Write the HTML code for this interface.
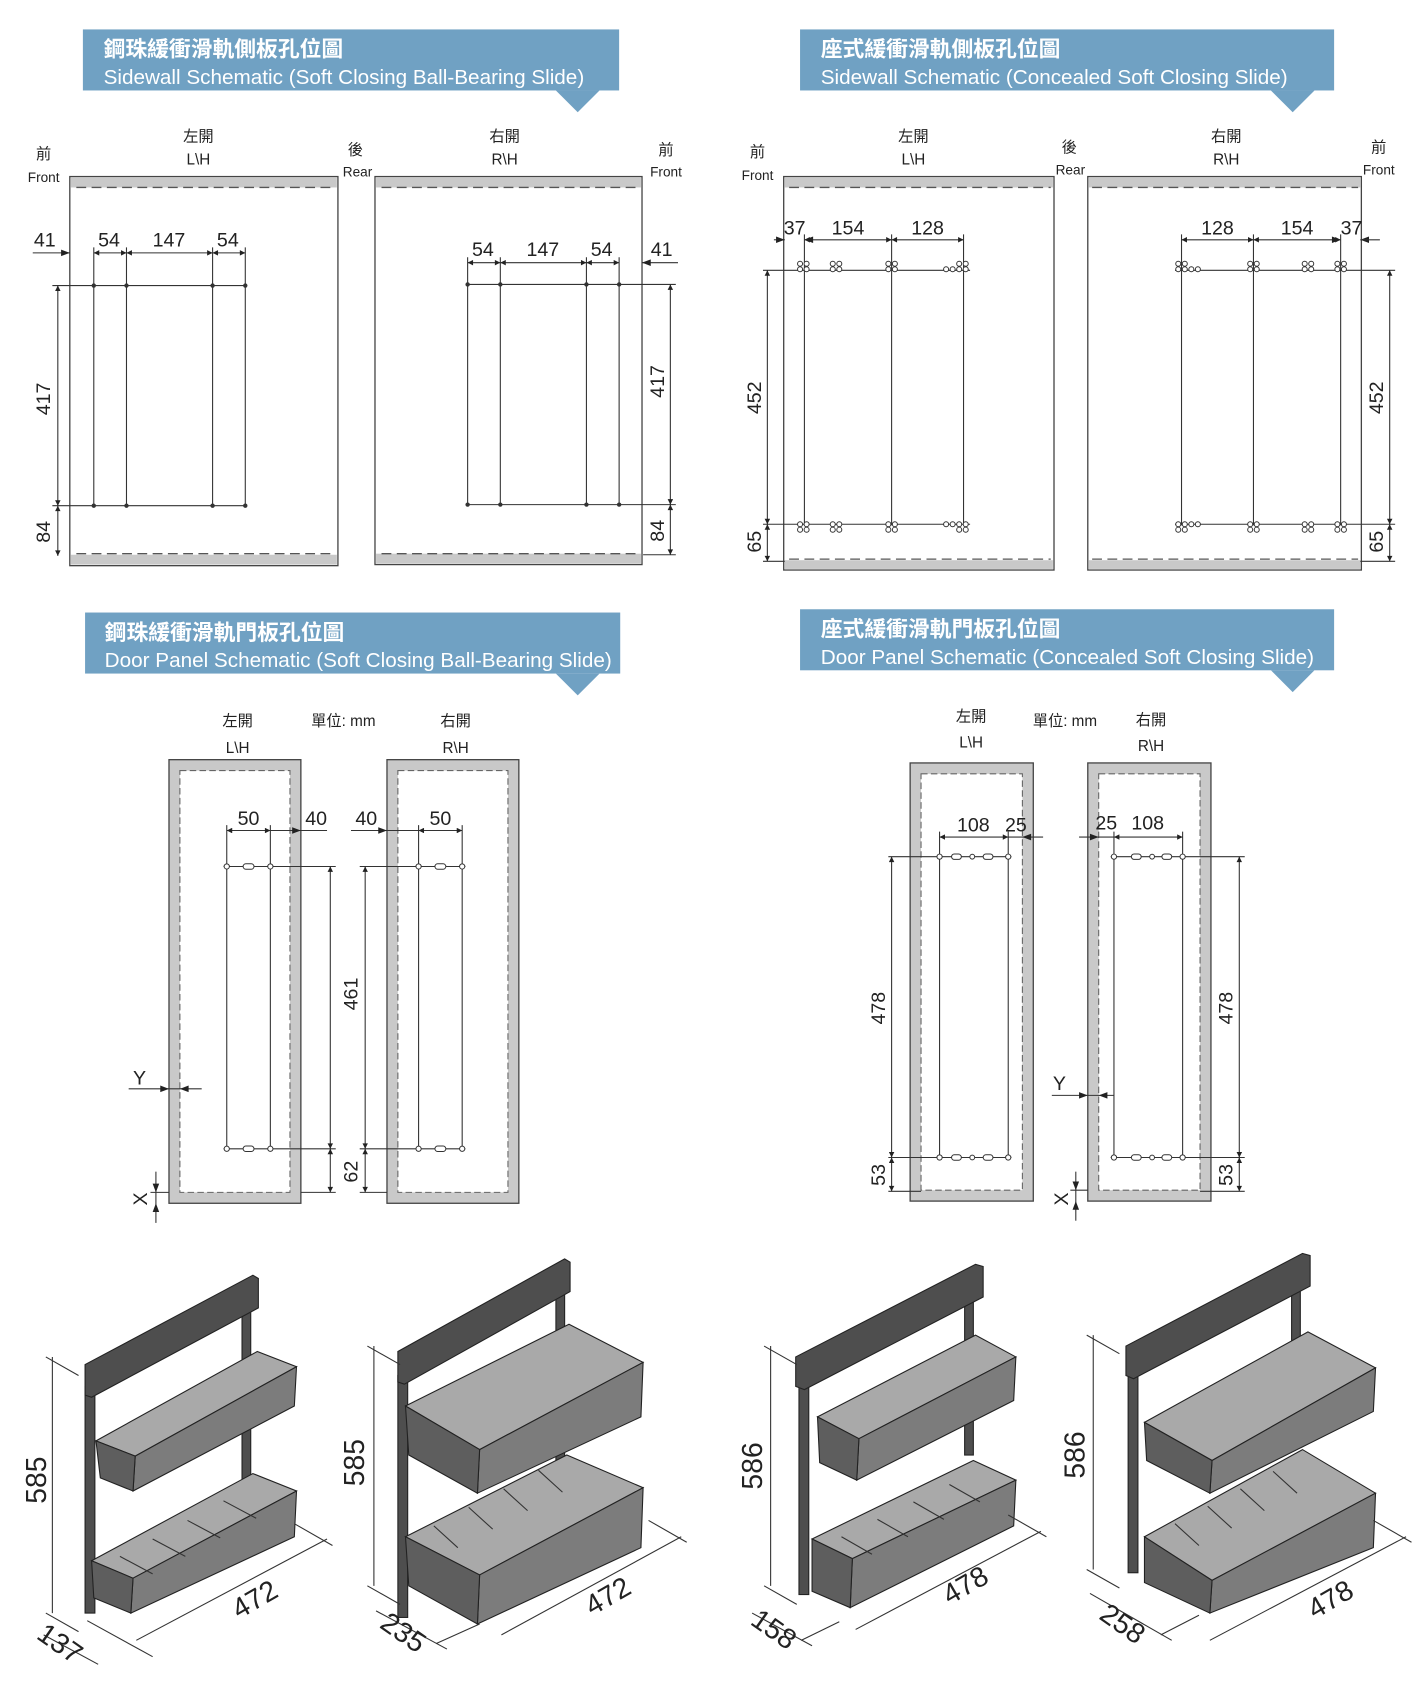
<!DOCTYPE html>
<html><head><meta charset="utf-8"><style>
html,body{margin:0;padding:0;background:#fff;}
svg{display:block;}
text{font-family:"Liberation Sans","Noto Sans CJK TC",sans-serif;fill:#222;}
.bt{fill:#fff;}
.n{font-size:18px;text-anchor:middle;}
.s{font-size:14px;text-anchor:middle;}
.xs{font-size:12.5px;text-anchor:middle;}
.l{stroke:#333;stroke-width:1;fill:none;}
.d{stroke:#555;stroke-width:1.2;fill:none;stroke-dasharray:9 5;}
.dim{stroke:#333;stroke-width:1;fill:none;marker-start:url(#a);marker-end:url(#a);}
.band{fill:#c9c9c9;}
.pn{fill:#fff;stroke:#444;stroke-width:1.2;}
.h{fill:#fff;stroke:#333;stroke-width:0.9;}
.fr{fill:#4e4e4e;stroke:#222;stroke-width:1;}
.top{fill:#a9a9a9;stroke:#222;stroke-width:1;}
.fr2{fill:#7c7c7c;stroke:#222;stroke-width:1;}
.en{fill:#5e5e5e;stroke:#222;stroke-width:1;}
.big{font-size:26px;text-anchor:middle;}
</style></head><body>
<svg width="1417" height="1697" viewBox="0 0 1300 1557" xmlns="http://www.w3.org/2000/svg">
<defs>
<marker id="a" viewBox="0 0 10 10" refX="10" refY="5" markerWidth="7" markerHeight="5" orient="auto-start-reverse" markerUnits="userSpaceOnUse"><path d="M0,0 L10,5 L0,10 z" fill="#222"/></marker>
</defs>

<g fill="#70a1c3">
<rect x="76" y="27" width="492" height="56"/><path d="M510,83 L550,83 L530,103 z"/>
<rect x="734" y="27" width="490" height="56"/><path d="M1166,83 L1206,83 L1186,103 z"/>
<rect x="78" y="562" width="491" height="56"/><path d="M510,618 L550,618 L530,638 z"/>
<rect x="734" y="559" width="490" height="56"/><path d="M1166,615 L1206,615 L1186,635 z"/>
</g>
<text class="bt" x="95" y="52" font-size="20" font-weight="bold">鋼珠緩衝滑軌側板孔位圖</text>
<text class="bt" x="95" y="77" font-size="19">Sidewall  Schematic (Soft Closing Ball-Bearing Slide)</text>
<text class="bt" x="753" y="52" font-size="20" font-weight="bold">座式緩衝滑軌側板孔位圖</text>
<text class="bt" x="753" y="77" font-size="19">Sidewall  Schematic (Concealed Soft Closing Slide)</text>
<text class="bt" x="96" y="587" font-size="20" font-weight="bold">鋼珠緩衝滑軌門板孔位圖</text>
<text class="bt" x="96" y="612" font-size="19">Door Panel Schematic (Soft Closing Ball-Bearing Slide)</text>
<text class="bt" x="753" y="584" font-size="20" font-weight="bold">座式緩衝滑軌門板孔位圖</text>
<text class="bt" x="753" y="609" font-size="19">Door Panel Schematic (Concealed Soft Closing Slide)</text>

<text class="s" x="40" y="146">前</text><text class="xs" x="40" y="167">Front</text>
<text class="s" x="182" y="130">左開</text><text class="s" x="182" y="151">L\H</text>
<text class="s" x="326" y="142">後</text><text class="xs" x="328" y="162">Rear</text>
<text class="s" x="463" y="130">右開</text><text class="s" x="463" y="151">R\H</text>
<text class="s" x="611" y="142">前</text><text class="xs" x="611" y="162">Front</text>

<rect class="pn" x="64" y="162" width="246" height="357"/>
<rect class="band" x="65" y="163" width="244" height="9"/><rect class="band" x="65" y="509" width="244" height="9"/>
<line class="d" x1="70" y1="172" x2="306" y2="172"/><line class="d" x1="70" y1="508" x2="306" y2="508"/>
<rect class="pn" x="344" y="162" width="245" height="356"/>
<rect class="band" x="345" y="163" width="243" height="9"/><rect class="band" x="345" y="508" width="243" height="9"/>
<line class="d" x1="350" y1="172" x2="585" y2="172"/><line class="d" x1="350" y1="508" x2="585" y2="508"/>

<line class="l" x1="30" y1="232" x2="64" y2="232"/>
<path d="M64,232 l-8,-3 v6z" fill="#222"/>
<line class="dim" x1="86" y1="232" x2="116" y2="232"/>
<line class="dim" x1="116" y1="232" x2="195" y2="232"/>
<line class="dim" x1="195" y1="232" x2="225" y2="232"/>
<g class="l"><line x1="86" y1="227" x2="86" y2="464"/><line x1="116" y1="227" x2="116" y2="464"/><line x1="195" y1="227" x2="195" y2="464"/><line x1="225" y1="227" x2="225" y2="464"/>
<line x1="48" y1="262" x2="225" y2="262"/><line x1="48" y1="464" x2="225" y2="464"/></g>
<g fill="#333"><circle cx="86" cy="262" r="2"/><circle cx="116" cy="262" r="2"/><circle cx="195" cy="262" r="2"/><circle cx="225" cy="262" r="2"/>
<circle cx="86" cy="464" r="2"/><circle cx="116" cy="464" r="2"/><circle cx="195" cy="464" r="2"/><circle cx="225" cy="464" r="2"/></g>
<line class="dim" x1="53" y1="262" x2="53" y2="464"/><line class="dim" x1="53" y1="464" x2="53" y2="510"/>
<text class="n" x="41" y="226">41</text><text class="n" x="100" y="226">54</text><text class="n" x="155" y="226">147</text><text class="n" x="209" y="226">54</text>
<text class="n" transform="translate(46,366) rotate(-90)">417</text>
<text class="n" transform="translate(46,488) rotate(-90)">84</text>

<line class="dim" x1="429" y1="241" x2="459" y2="241"/>
<line class="dim" x1="459" y1="241" x2="538" y2="241"/>
<line class="dim" x1="538" y1="241" x2="568" y2="241"/>
<line class="l" x1="589" y1="241" x2="622" y2="241"/><path d="M589,241 l8,-3 v6z" fill="#222"/>
<g class="l"><line x1="429" y1="236" x2="429" y2="463"/><line x1="459" y1="236" x2="459" y2="463"/><line x1="538" y1="236" x2="538" y2="463"/><line x1="568" y1="236" x2="568" y2="463"/>
<line x1="429" y1="261" x2="620" y2="261"/><line x1="429" y1="463" x2="620" y2="463"/><line x1="590" y1="509" x2="620" y2="509"/></g>
<g fill="#333"><circle cx="429" cy="261" r="2"/><circle cx="459" cy="261" r="2"/><circle cx="538" cy="261" r="2"/><circle cx="568" cy="261" r="2"/>
<circle cx="429" cy="463" r="2"/><circle cx="459" cy="463" r="2"/><circle cx="538" cy="463" r="2"/><circle cx="568" cy="463" r="2"/></g>
<line class="dim" x1="615" y1="261" x2="615" y2="463"/><line class="dim" x1="615" y1="463" x2="615" y2="509"/>
<text class="n" x="443" y="235">54</text><text class="n" x="498" y="235">147</text><text class="n" x="552" y="235">54</text><text class="n" x="607" y="235">41</text>
<text class="n" transform="translate(609,350) rotate(-90)">417</text>
<text class="n" transform="translate(609,487) rotate(-90)">84</text>

<text class="s" x="695" y="144">前</text><text class="xs" x="695" y="165">Front</text>
<text class="s" x="838" y="130">左開</text><text class="s" x="838" y="151">L\H</text>
<text class="s" x="981" y="140">後</text><text class="xs" x="982" y="160">Rear</text>
<text class="s" x="1125" y="130">右開</text><text class="s" x="1125" y="151">R\H</text>
<text class="s" x="1265" y="140">前</text><text class="xs" x="1265" y="160">Front</text>

<rect class="pn" x="719" y="162" width="248" height="361"/>
<rect class="band" x="720" y="163" width="246" height="9"/><rect class="band" x="720" y="514" width="246" height="8"/>
<line class="d" x1="724" y1="172" x2="964" y2="172"/><line class="d" x1="724" y1="513" x2="964" y2="513"/>
<rect class="pn" x="998" y="162" width="251" height="361"/>
<rect class="band" x="999" y="163" width="249" height="9"/><rect class="band" x="999" y="514" width="249" height="8"/>
<line class="d" x1="1002" y1="172" x2="1246" y2="172"/><line class="d" x1="1002" y1="513" x2="1246" y2="513"/>

<line class="l" x1="710" y1="220" x2="720" y2="220"/><path d="M720,220 l-8,-3 v6z" fill="#222"/>
<line class="dim" x1="738" y1="220" x2="818" y2="220"/><line class="dim" x1="818" y1="220" x2="884" y2="220"/>
<path d="M738,220 l8,-3 v6z" fill="#222"/>
<g class="l"><line x1="738" y1="215" x2="738" y2="482"/><line x1="818" y1="215" x2="818" y2="482"/><line x1="884" y1="215" x2="884" y2="482"/>
<line x1="700" y1="248" x2="890" y2="248"/><line x1="700" y1="481" x2="890" y2="481"/><line x1="700" y1="515" x2="720" y2="515"/></g>
<line class="dim" x1="704" y1="248" x2="704" y2="481"/><line class="dim" x1="704" y1="481" x2="704" y2="515"/>
<text class="n" x="729" y="215">37</text><text class="n" x="778" y="215">154</text><text class="n" x="851" y="215">128</text>
<text class="n" transform="translate(698,365) rotate(-90)">452</text>
<text class="n" transform="translate(698,497) rotate(-90)">65</text>
<g class="h">
<circle cx="734" cy="242" r="2.3"/><circle cx="740" cy="242" r="2.3"/><circle cx="734" cy="247" r="2.3"/><circle cx="740" cy="247" r="2.3"/>
<circle cx="764" cy="242" r="2.3"/><circle cx="770" cy="242" r="2.3"/><circle cx="764" cy="247" r="2.3"/><circle cx="770" cy="247" r="2.3"/>
<circle cx="815" cy="242" r="2.3"/><circle cx="821" cy="242" r="2.3"/><circle cx="815" cy="247" r="2.3"/><circle cx="821" cy="247" r="2.3"/>
<circle cx="868" cy="247" r="2.3"/><circle cx="874" cy="247" r="2.3"/><circle cx="880" cy="242" r="2.3"/><circle cx="886" cy="242" r="2.3"/><circle cx="880" cy="247" r="2.3"/><circle cx="886" cy="247" r="2.3"/>
<circle cx="734" cy="481" r="2.3"/><circle cx="740" cy="481" r="2.3"/><circle cx="734" cy="486" r="2.3"/><circle cx="740" cy="486" r="2.3"/>
<circle cx="764" cy="481" r="2.3"/><circle cx="770" cy="481" r="2.3"/><circle cx="764" cy="486" r="2.3"/><circle cx="770" cy="486" r="2.3"/>
<circle cx="815" cy="481" r="2.3"/><circle cx="821" cy="481" r="2.3"/><circle cx="815" cy="486" r="2.3"/><circle cx="821" cy="486" r="2.3"/>
<circle cx="868" cy="481" r="2.3"/><circle cx="874" cy="481" r="2.3"/><circle cx="880" cy="481" r="2.3"/><circle cx="886" cy="481" r="2.3"/><circle cx="880" cy="486" r="2.3"/><circle cx="886" cy="486" r="2.3"/>
</g>

<line class="dim" x1="1084" y1="220" x2="1150" y2="220"/><line class="dim" x1="1150" y1="220" x2="1230" y2="220"/>
<path d="M1248,220 l8,-3 v6z" fill="#222"/><line class="l" x1="1248" y1="220" x2="1266" y2="220"/>
<path d="M1230,220 l-8,-3 v6z" fill="#222"/>
<g class="l"><line x1="1084" y1="215" x2="1084" y2="482"/><line x1="1150" y1="215" x2="1150" y2="482"/><line x1="1230" y1="215" x2="1230" y2="482"/>
<line x1="1078" y1="248" x2="1280" y2="248"/><line x1="1078" y1="481" x2="1280" y2="481"/><line x1="1248" y1="515" x2="1280" y2="515"/></g>
<line class="dim" x1="1275" y1="248" x2="1275" y2="481"/><line class="dim" x1="1275" y1="481" x2="1275" y2="515"/>
<text class="n" x="1117" y="215">128</text><text class="n" x="1190" y="215">154</text><text class="n" x="1240" y="215">37</text>
<text class="n" transform="translate(1269,365) rotate(-90)">452</text>
<text class="n" transform="translate(1269,497) rotate(-90)">65</text>
<g class="h">
<circle cx="1081" cy="242" r="2.3"/><circle cx="1087" cy="242" r="2.3"/><circle cx="1081" cy="247" r="2.3"/><circle cx="1087" cy="247" r="2.3"/><circle cx="1093" cy="247" r="2.3"/><circle cx="1099" cy="247" r="2.3"/>
<circle cx="1147" cy="242" r="2.3"/><circle cx="1153" cy="242" r="2.3"/><circle cx="1147" cy="247" r="2.3"/><circle cx="1153" cy="247" r="2.3"/>
<circle cx="1197" cy="242" r="2.3"/><circle cx="1203" cy="242" r="2.3"/><circle cx="1197" cy="247" r="2.3"/><circle cx="1203" cy="247" r="2.3"/>
<circle cx="1227" cy="242" r="2.3"/><circle cx="1233" cy="242" r="2.3"/><circle cx="1227" cy="247" r="2.3"/><circle cx="1233" cy="247" r="2.3"/>
<circle cx="1081" cy="481" r="2.3"/><circle cx="1087" cy="481" r="2.3"/><circle cx="1093" cy="481" r="2.3"/><circle cx="1099" cy="481" r="2.3"/><circle cx="1081" cy="486" r="2.3"/><circle cx="1087" cy="486" r="2.3"/>
<circle cx="1147" cy="481" r="2.3"/><circle cx="1153" cy="481" r="2.3"/><circle cx="1147" cy="486" r="2.3"/><circle cx="1153" cy="486" r="2.3"/>
<circle cx="1197" cy="481" r="2.3"/><circle cx="1203" cy="481" r="2.3"/><circle cx="1197" cy="486" r="2.3"/><circle cx="1203" cy="486" r="2.3"/>
<circle cx="1227" cy="481" r="2.3"/><circle cx="1233" cy="481" r="2.3"/><circle cx="1227" cy="486" r="2.3"/><circle cx="1233" cy="486" r="2.3"/>
</g>

<text class="s" x="218" y="666" font-size="17">左開</text><text class="s" x="218" y="691" font-size="17">L\H</text>
<text class="s" x="315" y="666">單位: mm</text>
<text class="s" x="418" y="666" font-size="17">右開</text><text class="s" x="418" y="691" font-size="17">R\H</text>

<rect x="155" y="697" width="121" height="407" fill="#c9c9c9" stroke="#444" stroke-width="1.2"/>
<rect x="165" y="707" width="101" height="387" fill="#fff" stroke="#666" stroke-width="1" stroke-dasharray="6 3"/>
<rect x="355" y="697" width="121" height="407" fill="#c9c9c9" stroke="#444" stroke-width="1.2"/>
<rect x="365" y="707" width="101" height="387" fill="#fff" stroke="#666" stroke-width="1" stroke-dasharray="6 3"/>

<g class="l"><line x1="208" y1="757" x2="208" y2="1054"/><line x1="248" y1="757" x2="248" y2="1054"/>
<line x1="205" y1="795" x2="308" y2="795"/><line x1="205" y1="1054" x2="308" y2="1054"/><line x1="276" y1="1094" x2="308" y2="1094"/>
<line x1="248" y1="762" x2="300" y2="762"/></g>
<line class="dim" x1="208" y1="762" x2="248" y2="762"/><path d="M276,762 l-8,-3 v6z" fill="#222"/>
<line class="dim" x1="303" y1="795" x2="303" y2="1054"/><line class="dim" x1="303" y1="1054" x2="303" y2="1094"/>
<g class="h"><circle cx="208" cy="795" r="2.4"/><rect x="223" y="792.5" width="10" height="5" rx="2.5"/><circle cx="248" cy="795" r="2.4"/>
<circle cx="208" cy="1054" r="2.4"/><rect x="223" y="1051.5" width="10" height="5" rx="2.5"/><circle cx="248" cy="1054" r="2.4"/></g>
<text class="n" x="228" y="757">50</text><text class="n" x="290" y="757">40</text>
<text class="n" transform="translate(328,912) rotate(-90)">461</text>
<text class="n" transform="translate(328,1075) rotate(-90)">62</text>

<g class="l"><line x1="384" y1="757" x2="384" y2="1054"/><line x1="424" y1="757" x2="424" y2="1054"/>
<line x1="330" y1="795" x2="427" y2="795"/><line x1="330" y1="1054" x2="427" y2="1054"/><line x1="330" y1="1094" x2="355" y2="1094"/>
<line x1="322" y1="762" x2="384" y2="762"/></g>
<path d="M355,762 l-8,-3 v6z" fill="#222"/>
<line class="dim" x1="384" y1="762" x2="424" y2="762"/>
<line class="dim" x1="335" y1="795" x2="335" y2="1054"/><line class="dim" x1="335" y1="1054" x2="335" y2="1094"/>
<g class="h"><circle cx="384" cy="795" r="2.4"/><rect x="399" y="792.5" width="10" height="5" rx="2.5"/><circle cx="424" cy="795" r="2.4"/>
<circle cx="384" cy="1054" r="2.4"/><rect x="399" y="1051.5" width="10" height="5" rx="2.5"/><circle cx="424" cy="1054" r="2.4"/></g>
<text class="n" x="336" y="757">40</text><text class="n" x="404" y="757">50</text>

<text class="n" x="128" y="995">Y</text>
<line class="l" x1="118" y1="999" x2="185" y2="999"/><path d="M155,999 l-8,-3 v6z M165,999 l8,-3 v6z" fill="#222"/>
<text class="n" transform="translate(135,1100) rotate(-90)">X</text>
<line class="l" x1="143" y1="1075" x2="143" y2="1122"/><path d="M143,1094 l-3,-8 h6z M143,1104 l-3,8 h6z" fill="#222"/>
<line class="l" x1="138" y1="1094" x2="155" y2="1094"/>

<text class="s" x="891" y="662" font-size="17">左開</text><text class="s" x="891" y="686" font-size="17">L\H</text>
<text class="s" x="977" y="666">單位: mm</text>
<text class="s" x="1056" y="665" font-size="17">右開</text><text class="s" x="1056" y="689" font-size="17">R\H</text>

<rect x="835" y="700" width="113" height="402" fill="#c9c9c9" stroke="#444" stroke-width="1.2"/>
<rect x="845" y="710" width="93" height="382" fill="#fff" stroke="#666" stroke-width="1" stroke-dasharray="6 3"/>
<rect x="998" y="700" width="113" height="402" fill="#c9c9c9" stroke="#444" stroke-width="1.2"/>
<rect x="1008" y="710" width="93" height="382" fill="#fff" stroke="#666" stroke-width="1" stroke-dasharray="6 3"/>

<g class="l"><line x1="862" y1="763" x2="862" y2="1062"/><line x1="925" y1="763" x2="925" y2="1062"/>
<line x1="815" y1="786" x2="928" y2="786"/><line x1="815" y1="1062" x2="928" y2="1062"/><line x1="815" y1="1093" x2="845" y2="1093"/>
<line x1="925" y1="768" x2="957" y2="768"/></g>
<line class="dim" x1="862" y1="768" x2="925" y2="768"/><path d="M938,768 l8,-3 v6z" fill="#222"/>
<line class="dim" x1="818" y1="786" x2="818" y2="1062"/><line class="dim" x1="818" y1="1062" x2="818" y2="1093"/>
<g class="h"><circle cx="862" cy="786" r="2.4"/><rect x="873" y="783.5" width="9" height="5" rx="2.5"/><circle cx="892" cy="786" r="2.2"/><rect x="902" y="783.5" width="9" height="5" rx="2.5"/><circle cx="925" cy="786" r="2.4"/>
<circle cx="862" cy="1062" r="2.4"/><rect x="873" y="1059.5" width="9" height="5" rx="2.5"/><circle cx="892" cy="1062" r="2.2"/><rect x="902" y="1059.5" width="9" height="5" rx="2.5"/><circle cx="925" cy="1062" r="2.4"/></g>
<text class="n" x="893" y="763">108</text><text class="n" x="932" y="763">25</text>
<text class="n" transform="translate(812,925) rotate(-90)">478</text>
<text class="n" transform="translate(812,1078) rotate(-90)">53</text>

<g class="l"><line x1="1022" y1="763" x2="1022" y2="1062"/><line x1="1085" y1="763" x2="1085" y2="1062"/>
<line x1="1019" y1="786" x2="1142" y2="786"/><line x1="1019" y1="1062" x2="1142" y2="1062"/><line x1="1101" y1="1093" x2="1142" y2="1093"/>
<line x1="990" y1="768" x2="1022" y2="768"/></g>
<path d="M1008,768 l-8,-3 v6z" fill="#222"/>
<line class="dim" x1="1022" y1="768" x2="1085" y2="768"/>
<line class="dim" x1="1137" y1="786" x2="1137" y2="1062"/><line class="dim" x1="1137" y1="1062" x2="1137" y2="1093"/>
<g class="h"><circle cx="1022" cy="786" r="2.4"/><rect x="1038" y="783.5" width="9" height="5" rx="2.5"/><circle cx="1057" cy="786" r="2.2"/><rect x="1066" y="783.5" width="9" height="5" rx="2.5"/><circle cx="1085" cy="786" r="2.4"/>
<circle cx="1022" cy="1062" r="2.4"/><rect x="1038" y="1059.5" width="9" height="5" rx="2.5"/><circle cx="1057" cy="1062" r="2.2"/><rect x="1066" y="1059.5" width="9" height="5" rx="2.5"/><circle cx="1085" cy="1062" r="2.4"/></g>
<text class="n" x="1015" y="761">25</text><text class="n" x="1053" y="761">108</text>
<text class="n" transform="translate(1131,925) rotate(-90)">478</text>
<text class="n" transform="translate(1131,1078) rotate(-90)">53</text>

<text class="n" x="972" y="1000">Y</text>
<line class="l" x1="965" y1="1005" x2="1022" y2="1005"/><path d="M998,1005 l-8,-3 v6z M1008,1005 l8,-3 v6z" fill="#222"/>
<text class="n" transform="translate(980,1100) rotate(-90)">X</text>
<line class="l" x1="987" y1="1075" x2="987" y2="1120"/><path d="M987,1092 l-3,-8 h6z M987,1102 l-3,8 h6z" fill="#222"/>
<line class="l" x1="982" y1="1092" x2="998" y2="1092"/>

<g>
<rect class="fr" x="78" y="1272" width="9" height="208"/>
<rect class="fr" x="222" y="1195" width="8" height="190"/>
<polygon class="fr" points="78,1252 232,1170 237,1173 237,1200 84,1282 78,1280"/>
<polygon class="top" points="88,1322 236,1240 272,1254 124,1336"/>
<polygon class="fr2" points="124,1336 272,1254 270,1290 122,1368"/>
<polygon class="en" points="88,1322 124,1336 122,1368 92,1356"/>
<polygon class="top" points="84,1432 232,1352 272,1368 122,1448"/>
<polygon class="fr2" points="122,1448 272,1368 270,1410 120,1480"/>
<polygon class="en" points="84,1432 122,1448 120,1480 86,1466"/>
<g class="l" stroke="#222"><line x1="110" y1="1428" x2="140" y2="1444"/><line x1="140" y1="1412" x2="170" y2="1428"/><line x1="172" y1="1395" x2="202" y2="1411"/><line x1="205" y1="1377" x2="235" y2="1393"/></g>
</g>
<g class="l"><line x1="48" y1="1245" x2="48" y2="1480"/><line x1="42" y1="1245" x2="72" y2="1262"/><line x1="42" y1="1480" x2="72" y2="1497"/>
<line x1="40" y1="1500" x2="90" y2="1527"/><line x1="80" y1="1487" x2="140" y2="1520"/><line x1="125" y1="1505" x2="300" y2="1412"/><line x1="270" y1="1398" x2="305" y2="1418"/></g>
<text class="big" transform="translate(42,1358) rotate(-90)">585</text>
<text class="big" transform="translate(50,1515) rotate(35)">137</text>
<text class="big" transform="translate(238,1475) rotate(-30)">472</text>

<g>
<rect class="fr" x="365" y="1262" width="9" height="222"/>
<rect class="fr" x="510" y="1180" width="8" height="160"/>
<polygon class="fr" points="365,1240 518,1155 523,1158 523,1185 371,1270 365,1268"/>
<polygon class="top" points="372,1290 522,1215 590,1250 440,1330"/>
<polygon class="fr2" points="440,1330 590,1250 588,1300 438,1370"/>
<polygon class="en" points="372,1290 440,1330 438,1370 375,1335"/>
<polygon class="top" points="372,1410 520,1335 590,1365 440,1445"/>
<polygon class="fr2" points="440,1445 590,1365 588,1420 438,1490"/>
<polygon class="en" points="372,1410 440,1445 438,1490 375,1455"/>
<g class="l" stroke="#222"><line x1="398" y1="1400" x2="420" y2="1420"/><line x1="430" y1="1383" x2="452" y2="1403"/><line x1="462" y1="1366" x2="484" y2="1386"/><line x1="494" y1="1349" x2="516" y2="1369"/></g>
</g>
<g class="l"><line x1="343" y1="1235" x2="343" y2="1455"/><line x1="337" y1="1235" x2="367" y2="1252"/><line x1="337" y1="1455" x2="367" y2="1472"/>
<line x1="345" y1="1478" x2="410" y2="1513"/><line x1="400" y1="1508" x2="440" y2="1490"/><line x1="460" y1="1500" x2="625" y2="1410"/><line x1="595" y1="1395" x2="630" y2="1415"/></g>
<text class="big" transform="translate(334,1342) rotate(-90)">585</text>
<text class="big" transform="translate(365,1505) rotate(35)">235</text>
<text class="big" transform="translate(562,1472) rotate(-30)">472</text>

<g>
<rect class="fr" x="733" y="1255" width="9" height="208"/>
<rect class="fr" x="885" y="1180" width="8" height="155"/>
<polygon class="fr" points="730,1245 895,1160 902,1162 902,1190 738,1275 730,1272"/>
<polygon class="top" points="750,1300 895,1225 932,1245 788,1320"/>
<polygon class="fr2" points="788,1320 932,1245 930,1285 786,1358"/>
<polygon class="en" points="750,1300 788,1320 786,1358 752,1342"/>
<polygon class="top" points="745,1412 893,1340 932,1358 782,1430"/>
<polygon class="fr2" points="782,1430 932,1358 930,1400 780,1475"/>
<polygon class="en" points="745,1412 782,1430 780,1475 745,1460"/>
<g class="l" stroke="#222"><line x1="772" y1="1410" x2="800" y2="1426"/><line x1="805" y1="1394" x2="833" y2="1410"/><line x1="838" y1="1378" x2="866" y2="1394"/><line x1="871" y1="1362" x2="899" y2="1378"/></g>
</g>
<g class="l"><line x1="707" y1="1235" x2="707" y2="1455"/><line x1="701" y1="1235" x2="731" y2="1252"/><line x1="701" y1="1455" x2="731" y2="1472"/>
<line x1="690" y1="1480" x2="745" y2="1510"/><line x1="735" y1="1505" x2="770" y2="1488"/><line x1="785" y1="1495" x2="955" y2="1405"/><line x1="925" y1="1390" x2="960" y2="1410"/></g>
<text class="big" transform="translate(699,1345) rotate(-90)">586</text>
<text class="big" transform="translate(705,1502) rotate(35)">158</text>
<text class="big" transform="translate(890,1462) rotate(-30)">478</text>

<g>
<rect class="fr" x="1035" y="1245" width="9" height="198"/>
<rect class="fr" x="1185" y="1170" width="8" height="145"/>
<polygon class="fr" points="1033,1235 1195,1150 1202,1152 1202,1180 1040,1265 1033,1262"/>
<polygon class="top" points="1050,1305 1200,1222 1262,1255 1112,1340"/>
<polygon class="fr2" points="1112,1340 1262,1255 1260,1295 1110,1370"/>
<polygon class="en" points="1050,1305 1112,1340 1110,1370 1052,1340"/>
<polygon class="top" points="1050,1410 1195,1330 1262,1370 1112,1450"/>
<polygon class="fr2" points="1112,1450 1262,1370 1260,1420 1110,1480"/>
<polygon class="en" points="1050,1410 1112,1450 1110,1480 1050,1452"/>
<g class="l" stroke="#222"><line x1="1078" y1="1398" x2="1100" y2="1418"/><line x1="1108" y1="1382" x2="1130" y2="1402"/><line x1="1138" y1="1366" x2="1160" y2="1386"/><line x1="1168" y1="1350" x2="1190" y2="1370"/></g>
</g>
<g class="l"><line x1="1003" y1="1225" x2="1003" y2="1440"/><line x1="997" y1="1225" x2="1027" y2="1242"/><line x1="997" y1="1440" x2="1027" y2="1457"/>
<line x1="1000" y1="1462" x2="1075" y2="1505"/><line x1="1065" y1="1500" x2="1100" y2="1482"/><line x1="1110" y1="1505" x2="1290" y2="1410"/><line x1="1260" y1="1395" x2="1295" y2="1415"/></g>
<text class="big" transform="translate(995,1335) rotate(-90)">586</text>
<text class="big" transform="translate(1025,1497) rotate(35)">258</text>
<text class="big" transform="translate(1225,1475) rotate(-30)">478</text>
</svg>
</body></html>
